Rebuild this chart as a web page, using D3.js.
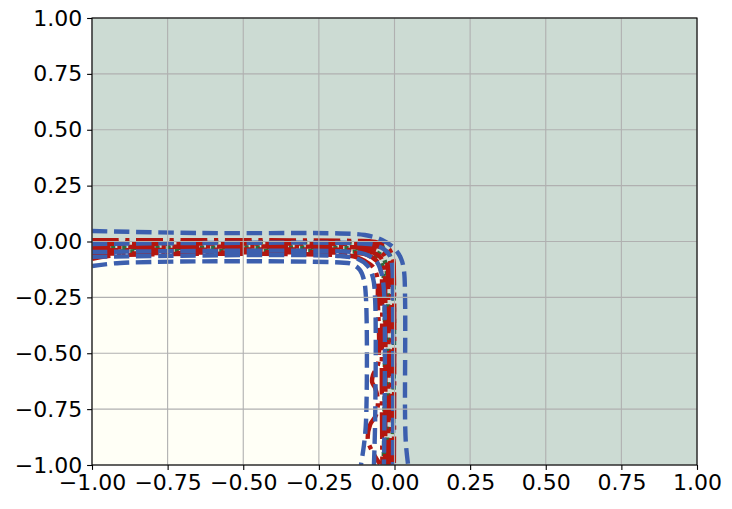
<!DOCTYPE html>
<html><head><meta charset="utf-8">
<script src="https://cdn.jsdelivr.net/npm/d3@7"></script>
<style>body{margin:0;background:#fff}svg{display:block}text{font-family:"DejaVu Sans",sans-serif}</style>
</head><body><div id="chart"></div>
<script>
// ---- data ----
const xTicks = [-1, -0.75, -0.5, -0.25, 0, 0.25, 0.5, 0.75, 1];
const yTicks = [-1, -0.75, -0.5, -0.25, 0, 0.25, 0.5, 0.75, 1];
// region below/left of decision boundary (ivory class)
const regionIvory = [[-1,-1],[-1,-0.04],[-0.164,-0.04],[-0.09,-0.05],[-0.05,-0.08],[-0.035,-0.13],[-0.03,-0.25],[-0.03,-1]];
// green dotted contours
const greenA = [[-1,-0.005],[-0.147,-0.005],[-0.06,-0.012],[-0.026,-0.04],[-0.01,-0.088],[-0.008,-1]];
const greenB = [[-1,-0.03],[-0.147,-0.03],[-0.078,-0.038],[-0.042,-0.064],[-0.028,-0.11],[-0.026,-1]];
const greenC = [[-1,-0.045],[-0.147,-0.045],[-0.085,-0.052],[-0.05,-0.08],[-0.038,-0.13],[-0.036,-1]];
// red dash-dot contours
const red1 = [[-1,0.006],[-0.147,0.003],[-0.064,-0.002],[-0.021,-0.029],[-0.005,-0.074],[-0.002,-0.15],[-0.002,-1]];
const red2 = [[-1,-0.011],[-0.147,-0.011],[-0.07,-0.016],[-0.03,-0.04],[-0.015,-0.085],[-0.012,-0.16],[-0.012,-1]];
const red3 = [[-1,-0.025],[-0.147,-0.025],[-0.074,-0.031],[-0.038,-0.055],[-0.024,-0.1],[-0.021,-0.18],[-0.021,-1]];
const red4 = [[-1,-0.04],[-0.147,-0.038],[-0.08,-0.045],[-0.047,-0.07],[-0.034,-0.115],[-0.031,-0.2],[-0.031,-1]];
const red5 = [[-1,-0.055],[-0.15,-0.051],[-0.09,-0.06],[-0.058,-0.088],[-0.044,-0.135],[-0.041,-0.22],[-0.042,-0.6],[-0.04,-1]];
const red6 = [[-1,-0.078],[-0.94,-0.064],[-0.147,-0.064],[-0.124,-0.071],[-0.098,-0.087],[-0.071,-0.114],[-0.058,-0.154],[-0.055,-0.262],[-0.055,-0.553],[-0.071,-0.597],[-0.074,-0.629],[-0.064,-0.656],[-0.055,-0.709],[-0.061,-0.776],[-0.081,-0.821],[-0.088,-0.888],[-0.071,-0.946],[-0.048,-0.996]];
// blue dashed contours
const blueA = [[-1,0.047],[-0.643,0.038],[-0.18,0.036],[-0.098,0.029],[-0.041,0.007],[-0.002,-0.029],[0.021,-0.074],[0.031,-0.128],[0.035,-0.262],[0.035,-0.799],[0.038,-0.911],[0.045,-1.0]];
const blueB = [[-1,-0.011],[-0.643,-0.007],[-0.147,-0.007],[-0.074,-0.013],[-0.035,-0.034],[-0.015,-0.065],[-0.008,-0.105],[-0.005,-0.262],[-0.005,-1]];
const blueC = [[-1,-0.047],[-0.164,-0.045],[-0.098,-0.056],[-0.061,-0.087],[-0.045,-0.132],[-0.035,-0.217],[-0.035,-1]];
const blueD = [[-1,-0.069],[-0.18,-0.065],[-0.121,-0.078],[-0.088,-0.11],[-0.071,-0.163],[-0.064,-0.262],[-0.064,-0.799],[-0.068,-1]];
const blueE = [[-1,-0.11],[-0.907,-0.096],[-0.18,-0.094],[-0.14,-0.101],[-0.114,-0.128],[-0.101,-0.172],[-0.094,-0.262],[-0.094,-0.799],[-0.101,-0.911],[-0.111,-1]];

// ---- layout ----
const W = 732, H = 509;
const L = 92, R = 697, T = 18, B = 465;
const svg = d3.select("#chart").append("svg").attr("width", W).attr("height", H);
const x = d3.scaleLinear().domain([-1, 1]).range([L, R]);
const y = d3.scaleLinear().domain([-1, 1]).range([B, T]);

svg.append("clipPath").attr("id","clip").append("rect")
  .attr("x", L).attr("y", T).attr("width", R-L).attr("height", B-T);
const plot = svg.append("g").attr("clip-path","url(#clip)");

plot.append("rect").attr("x", L).attr("y", T).attr("width", R-L).attr("height", B-T).attr("fill", "#ccdbd3");
const poly = d3.line().x(d => x(d[0])).y(d => y(d[1]));
plot.append("path").attr("d", poly(regionIvory) + "Z").attr("fill", "#fffff6");

// grid
const grid = svg.append("g");
xTicks.forEach(t => grid.append("line").attr("x1", x(t)).attr("x2", x(t)).attr("y1", T).attr("y2", B)
  .attr("stroke", "#b0b0b0").attr("stroke-width", 1.1));
yTicks.forEach(t => grid.append("line").attr("y1", y(t)).attr("y2", y(t)).attr("x1", L).attr("x2", R)
  .attr("stroke", "#b0b0b0").attr("stroke-width", 1.1));

const curve = d3.line().x(d => x(d[0])).y(d => y(d[1])).curve(d3.curveCatmullRom.alpha(0.5));
function draw(data, color, dash, w, off) {
  plot.append("path").attr("d", curve(data)).attr("fill", "none")
    .attr("stroke", color).attr("stroke-width", w).attr("stroke-dasharray", dash)
    .attr("stroke-dashoffset", off)
    .attr("stroke-linecap", "butt").attr("stroke-linejoin", "round");
}
[greenA, greenB, greenC].forEach((d, i) => draw(d, "#2e6b3c", "4.2,6.9", 4.4, i * 3));
[red1, red2, red3, red4, red5, red6].forEach((d, i) => draw(d, "#b3160f", "26.7,6.7,4.2,6.7", 4.4, (i % 3) * 4));
[blueA, blueB, blueC, blueD, blueE].forEach(d => draw(d, "#3c5fae", "15.4,6.7", 4.4, 0));

// axes
const fmt = d => d3.format(".2f")(d).replace("-", "\u2212");
const xa = svg.append("g").attr("transform", `translate(0,${B})`)
  .call(d3.axisBottom(x).tickValues(xTicks).tickFormat(fmt).tickSize(4.9).tickPadding(4.9));
const ya = svg.append("g").attr("transform", `translate(${L},0)`)
  .call(d3.axisLeft(y).tickValues(yTicks).tickFormat(fmt).tickSize(4.9).tickPadding(4.9));
[xa, ya].forEach(a => {
  a.select(".domain").remove();
  a.selectAll("text").attr("font-size", 22).attr("font-family", "DejaVu Sans").attr("fill", "#000");
  a.selectAll("line").attr("stroke", "#000").attr("stroke-width", 1.1);
});
svg.append("rect").attr("x", L).attr("y", T).attr("width", R-L).attr("height", B-T)
  .attr("fill", "none").attr("stroke", "#000").attr("stroke-width", 1.1);
</script></body></html>
